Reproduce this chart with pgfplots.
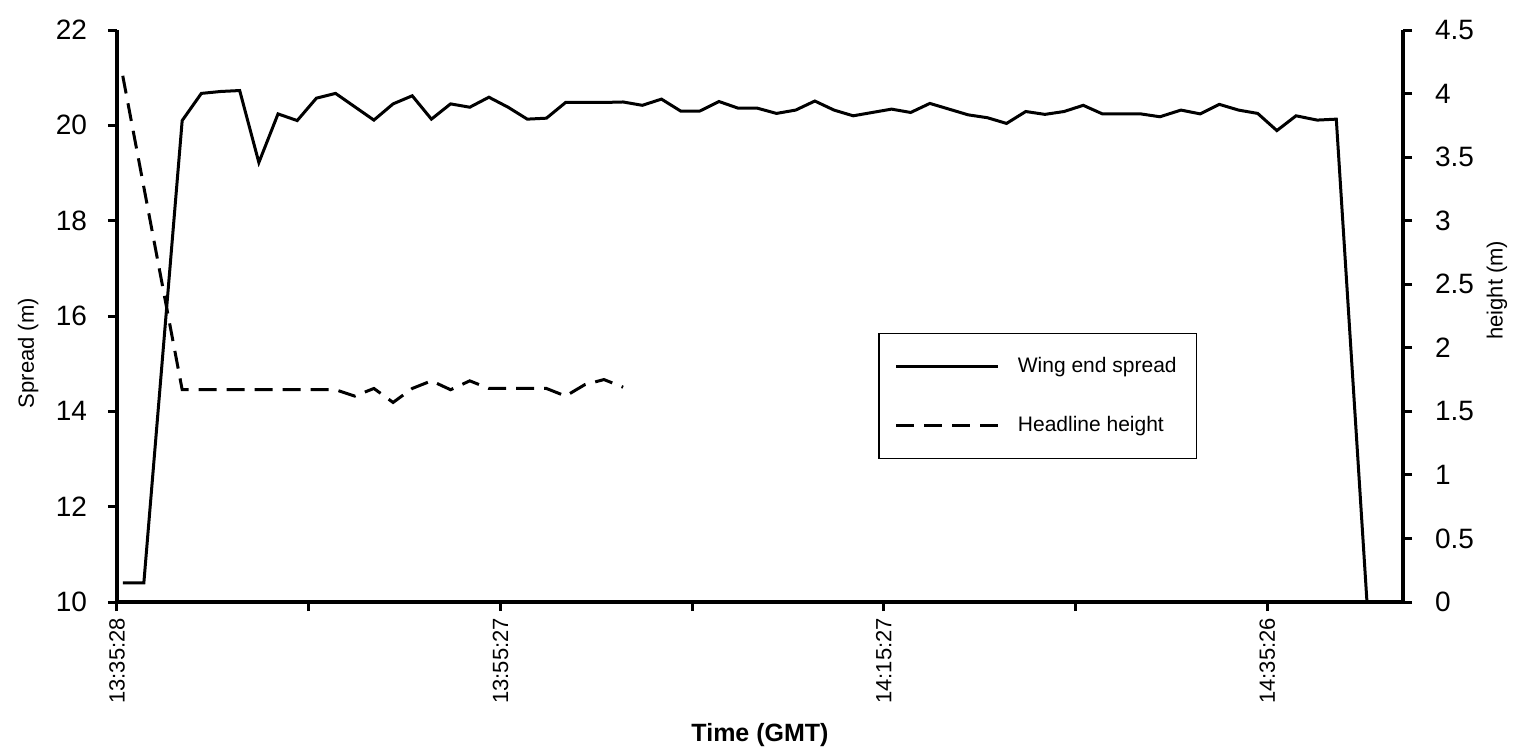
\documentclass[border=0pt]{standalone}
\usepackage{pgfplots}
\pgfplotsset{compat=1.18}
\usepackage{fontspec}
\setmainfont{Liberation Sans}
\begin{document}
\begin{tikzpicture}
\pgfplotsset{
  every axis/.append style={
    scale only axis, width=643pt, height=286pt,
    xmin=0, xmax=67.08,
    axis line style={line width=2pt},
    major tick length=4.5pt, tick align=outside,
    every tick/.style={line width=1.5pt, black},
    /pgf/number format/assume math mode=true,
    tick label style={font=\fontsize{14}{16}\selectfont},
  }
}
\begin{axis}[
  axis x line*=bottom, axis y line*=left,
  ymin=10, ymax=22, ytick={10,12,...,22},
  yticklabel style={xshift=-7pt},
  xtick={0,10,...,60},
  xticklabels={13:35:28,,13:55:27,,14:15:27,,14:35:26},
  x tick label style={rotate=90, anchor=east, font=\fontsize{11}{13}\selectfont},
  xlabel={\textbf{Time (GMT)}},
  xlabel style={at={(axis description cs:0.5,-0.2325)}, anchor=center, font=\fontsize{12.5}{14}\selectfont},
  ylabel={Spread (m)},
  ylabel style={at={(axis description cs:-0.069,0.435)}, anchor=center, font=\fontsize{11}{13}\selectfont},
  legend style={at={(axis description cs:0.592,0.47)}, anchor=north west, draw=black, line width=0.6pt, fill=white,
    inner xsep=8pt, inner ysep=10pt, row sep=16pt, font=\fontsize{10.5}{12}\selectfont,
    /tikz/every odd column/.append style={column sep=7pt},
    /tikz/every even column/.append style={column sep=6pt}},
  legend cell align=left,
  legend image code/.code={\draw[#1] (0pt,0pt) -- (51pt,0pt);},
]
\addplot[black, line width=1.5pt] coordinates {
(0.3,10.4) (1.4,10.4) (3.4,20.10) (4.4,20.67) (5.4,20.71) (6.4,20.73) (7.4,19.22) (8.4,20.24) (9.4,20.10)
(10.4,20.57) (11.4,20.67) (12.4,20.39) (13.4,20.11) (14.4,20.45) (15.4,20.62) (16.4,20.13) (17.4,20.45)
(18.4,20.38) (19.4,20.59) (20.4,20.38) (21.4,20.13) (22.4,20.15) (23.4,20.48) (24.4,20.48) (25.4,20.48)
(26.4,20.49) (27.4,20.42) (28.4,20.55) (29.4,20.30) (30.4,20.30) (31.4,20.50) (32.4,20.36) (33.4,20.36)
(34.4,20.25) (35.4,20.32) (36.4,20.51) (37.4,20.32) (38.4,20.20) (39.4,20.27) (40.4,20.34) (41.4,20.27)
(42.4,20.46) (43.4,20.34) (44.4,20.22) (45.4,20.16) (46.4,20.04) (47.4,20.29) (48.4,20.23) (49.4,20.29)
(50.4,20.42) (51.4,20.24) (52.4,20.24) (53.4,20.24) (54.4,20.18) (55.5,20.32) (56.5,20.24) (57.5,20.44)
(58.5,20.32) (59.5,20.25) (60.5,19.89) (61.5,20.20) (62.6,20.11) (63.6,20.13) (65.2,10.0)
};
\addlegendentry{Wing end spread}
\addlegendimage{black, line width=1.5pt, dash pattern=on 9pt off 5pt}
\addlegendentry{Headline height}
\end{axis}
\begin{axis}[
  axis x line=none, axis y line*=right,
  ymin=0, ymax=4.5, ytick={0,0.5,1,1.5,2,2.5,3,3.5,4,4.5},
  yticklabel style={xshift=8pt},
  ylabel={height (m)},
  ylabel style={at={(axis description cs:1.073,0.545)}, anchor=center, rotate=0, font=\fontsize{11}{13}\selectfont},
]
\addplot[black, line width=1.5pt, dash pattern=on 9pt off 5pt] coordinates {
(0.3,4.14) (3.4,1.67) (4.4,1.67) (5.4,1.67) (6.4,1.67) (7.4,1.67) (8.4,1.67) (9.4,1.67) (10.4,1.67)
(11.4,1.67) (12.4,1.62) (13.4,1.68) (14.4,1.57) (15.4,1.68) (16.4,1.74) (17.4,1.67) (18.4,1.74)
(19.4,1.68) (20.4,1.68) (21.4,1.68) (22.4,1.68) (23.4,1.62) (24.4,1.71) (25.4,1.75) (26.4,1.69)
};
\end{axis}
\pgfresetboundingbox
\path[use as bounding box] (-58.5pt,-75pt) rectangle (698.5pt,301pt);
\end{tikzpicture}
\end{document}
